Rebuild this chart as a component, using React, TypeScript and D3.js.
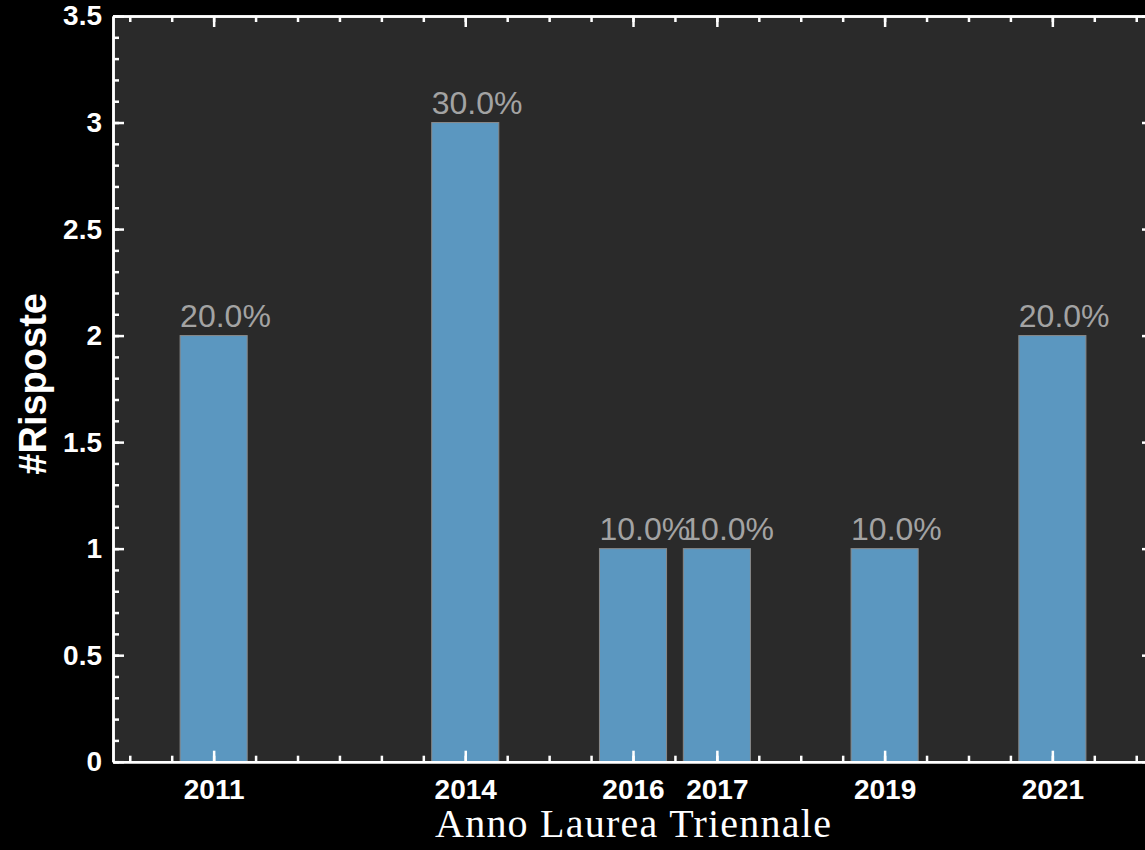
import { useEffect, useRef } from "react";
import * as d3 from "d3";

const years = [2011, 2014, 2016, 2017, 2019, 2021];
const counts = [2, 3, 1, 1, 1, 2];
const shares = ["20.0%", "30.0%", "10.0%", "10.0%", "10.0%", "20.0%"];
const yTicks = [0, 0.5, 1, 1.5, 2, 2.5, 3, 3.5];
const yTickLabels = ["0", "0.5", "1", "1.5", "2", "2.5", "3", "3.5"];

const WIDTH = 1145;
const HEIGHT = 850;
const PLOT = { left: 113, right: 1153, top: 16, bottom: 761.7 };
const X_DOMAIN = [2009.8, 2022.2];
const Y_DOMAIN = [0, 3.5];
const BAR_W = 0.8;

const BAR_FILL = "#5b97c0";
const BAR_EDGE = "#8a8a8a";
const PANEL_BG = "#2a2a2a";
const LABEL_GRAY = "#a3a3a3";
const SANS = "'Liberation Sans', Arial, sans-serif";

export default function App() {
  const svgRef = useRef<SVGSVGElement>(null);

  useEffect(() => {
    const svg = svgRef.current;
    if (!svg) return;
    const root = d3.select(svg);
    root.selectAll("*").remove();

    const x = d3.scaleLinear().domain(X_DOMAIN).range([PLOT.left, PLOT.right]);
    const y = d3.scaleLinear().domain(Y_DOMAIN).range([PLOT.bottom, PLOT.top]);

    root.append("rect").attr("width", WIDTH).attr("height", HEIGHT).attr("fill", "#000");
    root
      .append("rect")
      .attr("x", PLOT.left)
      .attr("y", PLOT.top)
      .attr("width", PLOT.right - PLOT.left)
      .attr("height", PLOT.bottom - PLOT.top)
      .attr("fill", PANEL_BG);

    const rows = years.map((yr, i) => ({ yr, n: counts[i], label: shares[i] }));

    // bars
    root
      .append("g")
      .selectAll("rect")
      .data(rows)
      .join("rect")
      .attr("x", (d) => x(d.yr - BAR_W / 2))
      .attr("y", (d) => y(d.n))
      .attr("width", (d) => x(d.yr + BAR_W / 2) - x(d.yr - BAR_W / 2))
      .attr("height", (d) => y(0) - y(d.n))
      .attr("fill", BAR_FILL)
      .attr("stroke", BAR_EDGE)
      .attr("stroke-width", 1);

    // percentage labels, left aligned on the bar edge
    root
      .append("g")
      .selectAll("text")
      .data(rows)
      .join("text")
      .attr("x", (d) => x(d.yr - BAR_W / 2))
      .attr("y", (d) => y(d.n) - 9)
      .attr("fill", LABEL_GRAY)
      .attr("font-family", SANS)
      .attr("font-size", 32)
      .text((d) => d.label);

    const minorX = d3.range(2010, 2022.01, 0.5);
    const minorY = d3.range(0, 3.501, 0.1);

    const styleAxis = (g: d3.Selection<SVGGElement, unknown, null, undefined>) => {
      g.selectAll(".tick line").attr("stroke", "#fff").attr("stroke-width", 2.5);
      g.select(".domain").attr("stroke", "#fff").attr("stroke-width", 2.5);
    };

    // minor ticks first
    const minor = root.append("g");
    minor
      .append("g")
      .attr("transform", `translate(0,${PLOT.bottom})`)
      .call(d3.axisBottom(x).tickValues(minorX).tickSizeInner(-6).tickSizeOuter(0).tickFormat(() => ""))
      .call(styleAxis);
    minor
      .append("g")
      .attr("transform", `translate(0,${PLOT.top})`)
      .call(d3.axisTop(x).tickValues(minorX).tickSizeInner(-6).tickSizeOuter(0).tickFormat(() => ""))
      .call(styleAxis);
    minor
      .append("g")
      .attr("transform", `translate(${PLOT.left},0)`)
      .call(d3.axisLeft(y).tickValues(minorY).tickSizeInner(-6).tickSizeOuter(0).tickFormat(() => ""))
      .call(styleAxis);
    minor
      .append("g")
      .attr("transform", `translate(${PLOT.right},0)`)
      .call(d3.axisRight(y).tickValues(minorY).tickSizeInner(-6).tickSizeOuter(0).tickFormat(() => ""))
      .call(styleAxis);

    // major ticks + labels
    const xAxis = root
      .append("g")
      .attr("transform", `translate(0,${PLOT.bottom})`)
      .call(d3.axisBottom(x).tickValues(years).tickSizeInner(-11).tickSizeOuter(0).tickPadding(17).tickFormat((v) => String(v)))
      .call(styleAxis);
    xAxis
      .selectAll("text")
      .attr("fill", "#fff")
      .attr("font-family", SANS)
      .attr("font-weight", "bold")
      .attr("font-size", 28);

    root
      .append("g")
      .attr("transform", `translate(0,${PLOT.top})`)
      .call(d3.axisTop(x).tickValues(years).tickSizeInner(-11).tickSizeOuter(0).tickFormat(() => ""))
      .call(styleAxis);

    const yAxis = root
      .append("g")
      .attr("transform", `translate(${PLOT.left},0)`)
      .call(
        d3
          .axisLeft(y)
          .tickValues(yTicks)
          .tickSizeInner(-11)
          .tickSizeOuter(0)
          .tickPadding(11)
          .tickFormat((_, i) => yTickLabels[i])
      )
      .call(styleAxis);
    yAxis
      .selectAll("text")
      .attr("fill", "#fff")
      .attr("font-family", SANS)
      .attr("font-weight", "bold")
      .attr("font-size", 28);

    root
      .append("g")
      .attr("transform", `translate(${PLOT.right},0)`)
      .call(d3.axisRight(y).tickValues(yTicks).tickSizeInner(-11).tickSizeOuter(0).tickFormat(() => ""))
      .call(styleAxis);

    // axis titles
    root
      .append("text")
      .attr("transform", `translate(46,${(PLOT.top + PLOT.bottom) / 2 - 5}) rotate(-90)`)
      .attr("text-anchor", "middle")
      .attr("fill", "#fff")
      .attr("font-family", SANS)
      .attr("font-weight", "bold")
      .attr("font-size", 38)
      .text("#Risposte");

    root
      .append("text")
      .attr("x", (PLOT.left + PLOT.right) / 2)
      .attr("y", 837)
      .attr("text-anchor", "middle")
      .attr("fill", "#fff")
      .attr("font-family", "'Liberation Serif', 'Times New Roman', serif")
      .attr("font-size", 40)
      .attr("textLength", 396)
      .attr("lengthAdjust", "spacing")
      .text("Anno Laurea Triennale");
  }, []);

  return (
    <div style={{ width: WIDTH, height: HEIGHT, overflow: "hidden", background: "#000" }}>
      <style>{"body{margin:0;background:#000}"}</style>
      <svg ref={svgRef} width={WIDTH} height={HEIGHT} style={{ display: "block" }} />
    </div>
  );
}
